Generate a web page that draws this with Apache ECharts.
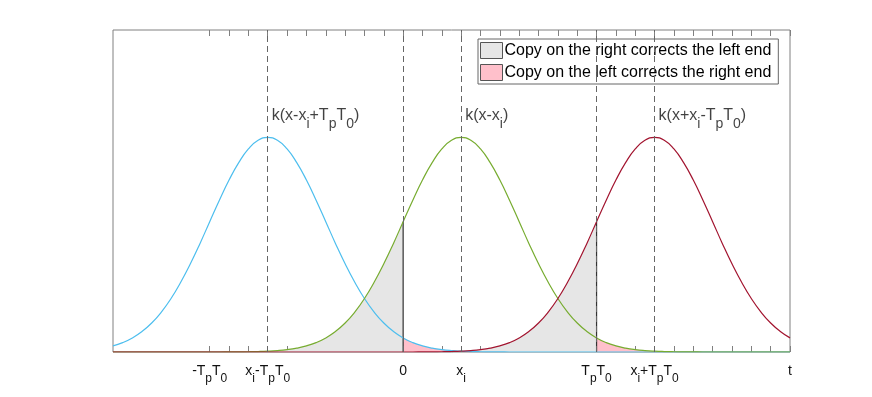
<!DOCTYPE html>
<html>
<head>
<meta charset="utf-8">
<script src="https://cdn.jsdelivr.net/npm/echarts@6/dist/echarts.min.js"></script>
<style>
  html, body { margin: 0; padding: 0; background: #fff; }
  #chart { width: 872px; height: 397px; }
</style>
</head>
<body>
<div id="chart"></div>
<script>
// kernel k(d), d = 0, 0.5, 1, ... (symmetric, ~0 beyond 12)
const kernel = [1, 0.986, 0.946, 0.882, 0.801, 0.707, 0.607, 0.506, 0.411, 0.325,
  0.249, 0.186, 0.135, 0.0956, 0.0657, 0.0439, 0.0286, 0.0181, 0.0111, 0.00664,
  0.00386, 0.00219, 0.0012, 0.00065, 0.00034]
const centers = [-7, 3, 13] // x_i - TpT0, x_i, x_i + TpT0
const curveLabels = ['k(x-x_i+T_pT_0)', 'k(x-x_i)', 'k(x+x_i-T_pT_0)']
const curveColors = ['#4DBEEE', '#77AC30', '#A2142F']
const tickValues = [-10, -7, 0, 3, 10, 13, 20]
const tickLabels = ['-T_pT_0', 'x_i-T_pT_0', '0', 'x_i', 'T_pT_0', 'x_i+T_pT_0', 't']
const dashedAt = [-7, 0, 3, 10, 13]
const minorTicks = []
for (let v = -10; v <= 20; v++) minorTicks.push(v)
const xs = []
for (let x = -15; x <= 20; x += 0.5) xs.push(x)

const grayName = 'Copy on the right corrects the left end'
const pinkName = 'Copy on the left corrects the right end'

function k(c, x) {
  const i = Math.round(Math.abs(x - c) * 2)
  return i < kernel.length ? kernel[i] : 0
}
function curve(c, from, to) {
  return xs.filter(x => x >= from && x <= to).map(x => [x, k(c, x)])
}
// '_' makes the next char a subscript
function toRich(s, n, sub) {
  let out = ''
  let buf = ''
  for (let i = 0; i < s.length; i++) {
    if (s[i] === '_') {
      if (buf) { out += '{' + n + '|' + buf + '}'; buf = '' }
      out += '{' + sub + '|' + s[i + 1] + '}'
      i++
    } else buf += s[i]
  }
  if (buf) out += '{' + n + '|' + buf + '}'
  return out
}
const txt = '#111'
const font = 'Liberation Sans'
const rich = {
  n: { fontSize: 14, lineHeight: 28, color: txt, fontFamily: font },
  s: { fontSize: 12, lineHeight: 12, verticalAlign: 'bottom', color: txt, fontFamily: font },
  cn: { fontSize: 16, lineHeight: 31, color: txt, fontFamily: font },
  cs: { fontSize: 14, lineHeight: 14, verticalAlign: 'bottom', color: txt, fontFamily: font },
}

function area(name, data, color) {
  return {
    name, type: 'line', data, showSymbol: false, silent: true, z: 1, smooth: true,
    lineStyle: { width: 0 }, itemStyle: { color }, areaStyle: { color, opacity: 1 },
  }
}

const series = [
  area(grayName, curve(centers[1], -15, 0), '#e6e6e6'),
  area(grayName, curve(centers[2], 0, 10), '#e6e6e6'),
  area(pinkName, curve(centers[0], 0, 20), '#ffc0cb'),
  area(pinkName, curve(centers[1], 10, 20), '#ffc0cb'),
  {
    type: 'line', showSymbol: false, silent: true, z: 2,
    data: [[0, 0], [0, k(centers[1], 0)]],
    lineStyle: { color: '#333', width: 1.2 },
    markLine: {
      silent: true, symbol: ['none', 'none'], label: { show: false },
      lineStyle: { color: '#666', width: 1, type: [6, 4] },
      data: dashedAt.map(v => ({ xAxis: v })),
    },
  },
  {
    type: 'line', showSymbol: false, silent: true, z: 2,
    data: [[10, 0], [10, k(centers[2], 10)]],
    lineStyle: { color: '#333', width: 1.2 },
  },
]
centers.forEach((c, i) => {
  series.push({
    type: 'line', data: curve(c, -15, 20), showSymbol: false, silent: true, z: 3, smooth: true,
    lineStyle: { color: curveColors[i], width: 1.2 },
  })
})
series.push({
  type: 'scatter', symbolSize: 0, silent: true, z: 4,
  data: centers.map((c, i) => ({ value: [c, 1.1], text: curveLabels[i] })),
  label: {
    show: true, position: 'right', distance: 4,
    formatter: p => toRich(p.data.text, 'cn', 'cs'), rich,
  },
})

const myChart = echarts.init(document.getElementById('chart'), null, { renderer: 'canvas' })
const option = {
  animation: false,
  grid: {
    left: 113, right: 82, top: 30, bottom: 45,
    show: true, borderColor: '#808080', borderWidth: 1, backgroundColor: '#fff',
  },
  legend: {
    left: 478, top: 39, orient: 'vertical',
    backgroundColor: '#fff', borderColor: '#666', borderWidth: 1,
    padding: [3, 7, 3, 2], itemGap: 5, itemWidth: 22, itemHeight: 16,
    textStyle: { fontSize: 16, color: '#000', fontFamily: font, padding: [0, 0, 0, -3] },
    data: [
      { name: grayName, icon: 'rect', itemStyle: { color: '#e6e6e6', borderColor: '#555', borderWidth: 1 } },
      { name: pinkName, icon: 'rect', itemStyle: { color: '#ffc0cb', borderColor: '#555', borderWidth: 1 } },
    ],
  },
  xAxis: [
    {
      type: 'value', min: -15, max: 20, position: 'bottom',
      axisLine: { show: false },
      splitLine: { show: false },
      axisTick: { show: true, inside: true, length: 6, customValues: minorTicks, lineStyle: { color: '#808080' } },
      axisLabel: {
        show: true, margin: 5, customValues: tickValues,
        formatter: v => toRich(tickLabels[tickValues.indexOf(v)] || '', 'n', 's'), rich,
      },
    },
    {
      type: 'value', min: -15, max: 20, position: 'top',
      axisLine: { show: false },
      splitLine: { show: false },
      axisTick: { show: true, inside: true, length: 6, customValues: minorTicks, lineStyle: { color: '#808080' } },
      axisLabel: { show: false },
    },
  ],
  yAxis: {
    type: 'value', min: 0, max: 1.5,
    axisLine: { show: false }, axisTick: { show: false },
    axisLabel: { show: false }, splitLine: { show: false },
  },
  series,
}
myChart.setOption(option)
</script>
</body>
</html>
